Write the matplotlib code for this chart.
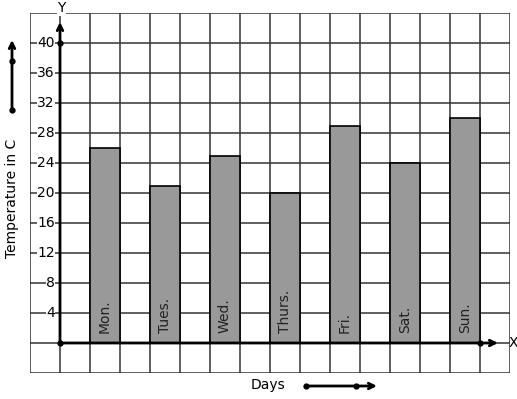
import matplotlib.pyplot as plt
import numpy as np

# data
days = ['Mon.', 'Tues.', 'Wed.', 'Thurs.', 'Fri.', 'Sat.', 'Sun.']
temps = [26, 21, 25, 20, 29, 24, 30]
yticks = [4, 8, 12, 16, 20, 24, 28, 32, 36, 40]

fig = plt.figure(figsize=(5.17, 3.99), dpi=100)
ax = fig.add_axes([30 / 517, 26 / 399, 480 / 517, 360 / 399])
ax.set_xlim(-1, 15)
ax.set_ylim(-4, 44)

# grid lines
for gx in range(-1, 16):
    ax.axvline(gx, color='#333333', lw=1.1, zorder=1)
for gy in range(-4, 45, 4):
    ax.axhline(gy, color='#333333', lw=1.1, zorder=1)

# bars
xpos = np.arange(len(days)) * 2 + 1.5
ax.bar(xpos, temps, width=1, color='#999999', edgecolor='black', lw=1.2, zorder=2)
for x, d in zip(xpos, days):
    ax.text(x, 1.3, d, rotation=90, ha='center', va='bottom', fontsize=10,
            color='#222222', zorder=3)

# axes with arrows
ax.annotate('', xy=(0, 42.8), xytext=(0, 0),
            arrowprops=dict(arrowstyle='->', lw=2, color='black',
                            shrinkA=0, shrinkB=0), zorder=4)
ax.annotate('', xy=(14.6, 0), xytext=(0, 0),
            arrowprops=dict(arrowstyle='->', lw=2, color='black',
                            shrinkA=0, shrinkB=0), annotation_clip=False, zorder=4)
ax.plot([0, 0, 14], [0, 40, 0], 'o', color='black', ms=3.5, zorder=5, clip_on=False)
ax.text(0.05, 44.6, 'Y', ha='center', va='center', fontsize=10,
        bbox=dict(fc='white', ec='none', pad=0.5), clip_on=False, zorder=5)
ax.text(14.95, 0, 'X', ha='left', va='center', fontsize=10, clip_on=False)

# tick labels on grid
for t in yticks:
    ax.text(-0.17, t, str(t), ha='right', va='center', fontsize=10,
            bbox=dict(fc='white', ec='none', pad=0.3), zorder=3)

ax.set_xticks([])
ax.set_yticks([])
for s in ax.spines.values():
    s.set_visible(False)

# labels and side arrows
fig.text(12 / 517, 1 - 198 / 399, 'Temperature in C', rotation=90,
         ha='center', va='center', fontsize=10)
fig.text(268 / 517, 1 - 385 / 399, 'Days', ha='center', va='center', fontsize=10)

ax.annotate('', xy=(12, 399 - 40), xytext=(12, 399 - 110), xycoords='figure pixels',
            textcoords='figure pixels',
            arrowprops=dict(arrowstyle='->', lw=2, color='black', shrinkA=0, shrinkB=0))
fig.add_artist(plt.Line2D([12 / 517, 12 / 517], [1 - 110 / 399, 1 - 61 / 399],
                          ls='none', marker='o', ms=3.5, color='black'))
ax.annotate('', xy=(377, 399 - 386), xytext=(306, 399 - 386), xycoords='figure pixels',
            textcoords='figure pixels',
            arrowprops=dict(arrowstyle='->', lw=2, color='black', shrinkA=0, shrinkB=0))
fig.add_artist(plt.Line2D([306 / 517, 356 / 517], [1 - 386 / 399, 1 - 386 / 399],
                          ls='none', marker='o', ms=3.5, color='black'))

plt.savefig('out.png', dpi=100)
